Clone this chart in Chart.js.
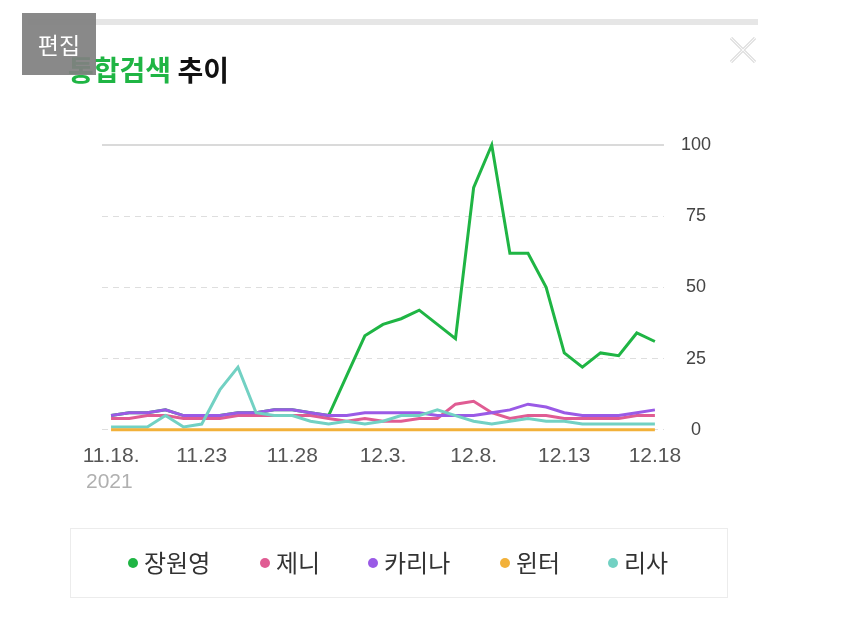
<!DOCTYPE html>
<html>
<head>
<meta charset="utf-8">
<script src="https://cdn.jsdelivr.net/npm/chart.js@4"></script>
<style>
  html, body { margin: 0; padding: 0; background: #fff; }
  body { width: 850px; height: 642px; position: relative; overflow: hidden; font-family: "Noto Sans CJK KR", sans-serif; }
  #topbar { position: absolute; left: 28px; top: 19px; width: 730px; height: 6px; background: #e6e6e6; }
  #title { position: absolute; left: 68px; top: 49px; font-size: 28px; font-weight: bold; color: #111; letter-spacing: 0; white-space: nowrap; }
  #title .g { color: #1fb544; }
  #edit { position: absolute; left: 22px; top: 13px; width: 74px; height: 62px; background: rgba(128,128,128,0.93); color: #fff; font-size: 23px; text-align: center; line-height: 62px; }
  #close { position: absolute; left: 728px; top: 35px; }
  #wrap { position: absolute; left: 0; top: 0; width: 850px; height: 642px; }
  #year { position: absolute; left: 86px; top: 469px; font-family: "Liberation Sans", Arial, sans-serif; font-size: 21px; color: #b0b0b0; }
  #legend { position: absolute; left: 70px; top: 528px; width: 658px; height: 70px; border: 1px solid #ececec; box-sizing: border-box; }
  #legend .item { position: absolute; top: 17px; font-size: 24px; color: #333; white-space: nowrap; line-height: 32px; }
  #legend .dot { display: inline-block; width: 10px; height: 10px; border-radius: 50%; margin-right: 6px; vertical-align: middle; position: relative; top: -2px; }
</style>
</head>
<body>
<div id="topbar"></div>
<div id="wrap"><canvas id="trendChart" width="850" height="642"></canvas></div>
<div id="title"><span class="g">통합검색</span> 추이</div>
<div id="edit">편집</div>
<svg id="close" width="30" height="30" viewBox="0 0 30 30">
  <path d="M3 3 L27 27 M27 3 L3 27" stroke="#d0d0d0" stroke-width="3" fill="none"/>
  <path d="M3 3 L27 27 M27 3 L3 27" stroke="#fafafa" stroke-width="1.2" fill="none"/>
</svg>
<div id="year">2021</div>
<div id="legend"></div>

<script>
// dates 11.18 ~ 12.18 (label text kept as shown in the picture)
const dates = [
  '11.18.', '11.19', '11.20', '11.21', '11.22', '11.23', '11.24', '11.25', '11.26', '11.27',
  '11.28', '11.29', '11.30', '12.1', '12.2', '12.3.', '12.4', '12.5', '12.6', '12.7',
  '12.8.', '12.9', '12.10', '12.11', '12.12', '12.13', '12.14', '12.15', '12.16', '12.17', '12.18'
];

const seriesNames = ['장원영', '제니', '카리나', '윈터', '리사'];
const seriesColors = ['#1fb544', '#e05c93', '#9a5ae6', '#f2b13a', '#72d1c3'];

const wonyoung = [5, 6, 6, 7, 5, 5, 5, 6, 6, 7, 7, 6, 5, 19, 33, 37, 39, 42, 37, 32, 85, 100, 62, 62, 50, 27, 22, 27, 26, 34, 31];
const jennie = [4, 4, 5, 5, 4, 4, 4, 5, 5, 5, 5, 5, 4, 3, 4, 3, 3, 4, 4, 9, 10, 6, 4, 5, 5, 4, 4, 4, 4, 5, 5];
const karina = [5, 6, 6, 7, 5, 5, 5, 6, 6, 7, 7, 6, 5, 5, 6, 6, 6, 6, 5, 5, 5, 6, 7, 9, 8, 6, 5, 5, 5, 6, 7];
const winter = [0, 0, 0, 0, 0, 0, 0, 0, 0, 0, 0, 0, 0, 0, 0, 0, 0, 0, 0, 0, 0, 0, 0, 0, 0, 0, 0, 0, 0, 0, 0];
const lisa = [1, 1, 1, 5, 1, 2, 14, 22, 6, 5, 5, 3, 2, 3, 2, 3, 5, 5, 7, 5, 3, 2, 3, 4, 3, 3, 2, 2, 2, 2, 2];

const yTicks = [0, 25, 50, 75, 100];

const allSeries = [wonyoung, jennie, karina, winter, lisa];
// drawing order: lower = on top
const layer = [4, 3, 2, 0, 1];

// legend
const legendEl = document.getElementById('legend');
const legendX = [57, 189, 297, 429, 537];
seriesNames.forEach((name, i) => {
  const it = document.createElement('div');
  it.className = 'item';
  it.style.left = legendX[i] + 'px';
  it.innerHTML = '<span class="dot" style="background:' + seriesColors[i] + '"></span>' + name;
  legendEl.appendChild(it);
});

// solid top grid line at 100
const topLine = {
  id: 'topLine',
  beforeDatasetsDraw(chart) {
    const { ctx, chartArea, scales } = chart;
    const y = scales.y.getPixelForValue(100);
    ctx.save();
    ctx.strokeStyle = '#dadada';
    ctx.lineWidth = 2;
    ctx.beginPath();
    ctx.moveTo(chartArea.left, y);
    ctx.lineTo(chartArea.right, y);
    ctx.stroke();
    ctx.restore();
  }
};

new Chart(document.getElementById('trendChart'), {
  type: 'line',
  data: {
    labels: dates,
    datasets: allSeries.map((d, i) => ({
      label: seriesNames[i],
      data: d,
      borderColor: seriesColors[i],
      backgroundColor: seriesColors[i],
      borderWidth: 3,
      pointRadius: 0,
      tension: 0,
      clip: 8,
      order: layer[i]
    }))
  },
  options: {
    responsive: false,
    animation: false,
    layout: { padding: { left: 102, right: 122, top: 145, bottom: 159 } },
    plugins: { legend: { display: false }, tooltip: { enabled: false } },
    scales: {
      x: {
        offset: true,
        grid: { display: false, drawTicks: false },
        border: { display: false },
        ticks: {
          autoSkip: false,
          maxRotation: 0,
          padding: 14,
          color: '#555',
          font: { family: '"Liberation Sans", Arial, sans-serif', size: 21 },
          callback: function(v, i) { return i % 5 === 0 ? dates[i] : ''; }
        }
      },
      y: {
        position: 'right',
        min: 0,
        max: 100,
        afterBuildTicks: (s) => { s.ticks = yTicks.map(v => ({ value: v })); },
        grid: {
          drawTicks: false,
          color: (c) => c.tick && c.tick.value === 100 ? 'rgba(0,0,0,0)' : '#dedede',
          lineWidth: 1
        },
        border: { display: false, dash: [6, 5] },
        ticks: {
          padding: 17,
          crossAlign: 'center',
          color: '#444',
          font: { family: '"Liberation Sans", Arial, sans-serif', size: 18 }
        }
      }
    }
  },
  plugins: [topLine]
});
</script>
</body>
</html>
